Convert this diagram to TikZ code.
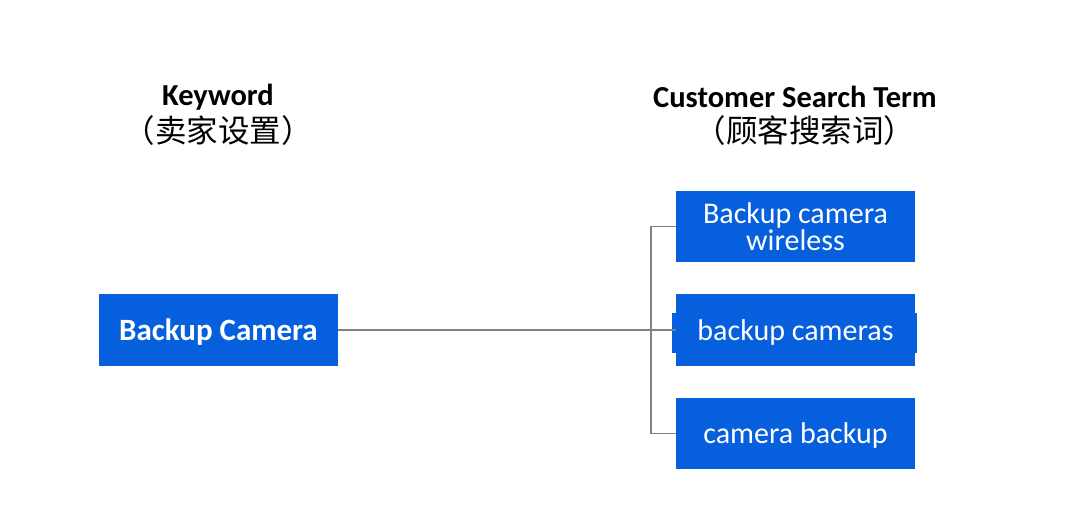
\documentclass[tikz,border=0pt]{standalone}
\usepackage{fontspec}
\setmainfont{Carlito}
\newfontfamily\cjk{Noto Sans CJK SC}
\definecolor{boxblue}{RGB}{6,95,221}
\definecolor{linegray}{RGB}{128,128,128}
\begin{document}
\begin{tikzpicture}[x=1pt,y=-1pt,
  bluebox/.style={fill=boxblue, text=white, minimum width=239pt, minimum height=72pt, inner sep=0pt, align=center, font=\fontsize{30}{27}\selectfont},
  oneline/.style={text depth=0pt},
  heading/.style={align=center, font=\fontsize{30.5}{34}\selectfont\bfseries},
  cjkhead/.style={font=\fontsize{31.5}{32}\selectfont\cjk},
  conn/.style={draw=linegray, line width=1.6pt}]
\useasboundingbox (0,0) rectangle (1080,528);
\fill[white] (0,0) rectangle (1080,528);
% headings
\node[heading] (h1) at (218,97) {Keyword};
\node[cjkhead] (h1c) at (218,131) {（卖家设置）};
\node[heading] (h2) at (795,97) {Customer Search Term};
\node[cjkhead] (h2c) at (805,131) {（顾客搜索词）};
% boxes
\node[bluebox, oneline, font=\fontsize{31}{27}\selectfont\bfseries] (kw) at (218.5,330) {Backup Camera};
\node[bluebox, minimum height=71pt] (t1) at (795.5,226.5) {Backup camera\\wireless};
\fill[boxblue] (672,313) rectangle (917,353);
\node[bluebox, oneline] (t2) at (795.5,330) {backup cameras};
\node[bluebox, oneline, minimum height=71pt] (t3) at (795.5,433.5) {camera backup};
% connectors
\draw[conn] (kw.east) -- (t2.west);
\coordinate (bj) at (651,330);
\draw[conn] (t1.west) -| (bj) |- (t3.west);
\end{tikzpicture}
\end{document}
